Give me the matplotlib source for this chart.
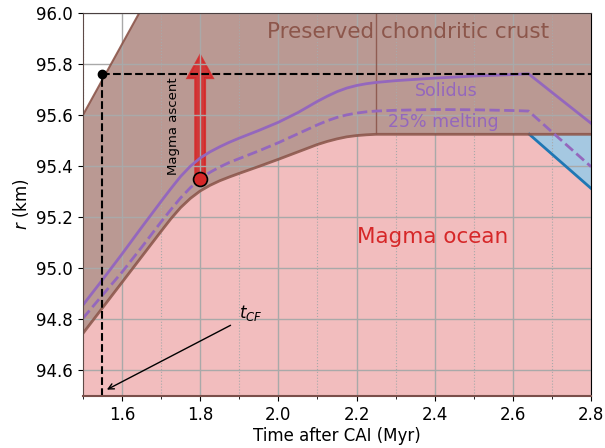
import numpy as np
import matplotlib
matplotlib.use("Agg")
import matplotlib.pyplot as plt
from matplotlib.ticker import MultipleLocator

# ---- data ----
t = [1.50, 1.55, 1.60, 1.65, 1.70, 1.725, 1.75, 1.775, 1.80, 1.825, 1.85, 1.875,
     1.90, 1.95, 2.00, 2.05, 2.10, 2.125, 2.15, 2.175, 2.20, 2.225, 2.25, 2.30,
     2.40, 2.50, 2.60, 2.64, 2.70, 2.80]
crust_base = [94.745, 94.845, 94.945, 95.045, 95.145, 95.194, 95.238, 95.274,
              95.303, 95.325, 95.343, 95.358, 95.372, 95.399, 95.427, 95.456,
              95.485, 95.497, 95.507, 95.515, 95.52, 95.523, 95.525, 95.525,
              95.525, 95.525, 95.525, 95.525, 95.525, 95.525]
solidus = [94.856, 94.955, 95.056, 95.16, 95.262, 95.312, 95.36, 95.40, 95.432,
           95.456, 95.476, 95.494, 95.51, 95.54, 95.572, 95.61, 95.654, 95.674,
           95.692, 95.706, 95.716, 95.723, 95.728, 95.735, 95.745, 95.753,
           95.759, 95.762, 95.689, 95.568]
melt25 = [94.804, 94.895, 94.985, 95.082, 95.182, 95.23, 95.276, 95.316, 95.35,
          95.376, 95.397, 95.415, 95.43, 95.46, 95.492, 95.527, 95.562, 95.578,
          95.591, 95.601, 95.608, 95.613, 95.616, 95.619, 95.622, 95.621,
          95.618, 95.616, 95.534, 95.398]
# frozen base (blue) region
blue_t = [2.642, 2.70, 2.75, 2.80]
blue_r = [95.525, 95.447, 95.38, 95.313]
# surface line of the crust (top-left)
surf_t = [1.50, 1.70]
surf_r = [95.60, 96.155]
t_cf = 1.55
r_cf = 95.76
ascent_t = 1.80
ascent_r0 = 95.35
ascent_r1 = 95.835
xticks = [1.6, 1.8, 2.0, 2.2, 2.4, 2.6, 2.8]
yticks = [94.6, 94.8, 95.0, 95.2, 95.4, 95.6, 95.8, 96.0]

BROWN = '#8c564b'
RED = '#d62728'
PURPLE = '#9467bd'
BLUE = '#1f77b4'

fig = plt.figure(figsize=(6.05, 4.48), dpi=100)
ax = fig.add_axes([0.137, 0.116, 0.840, 0.855])

t_arr = np.array(t)
base_arr = np.array(crust_base)
surf_full = np.where(t_arr <= surf_t[-1],
                     np.interp(t_arr, surf_t, surf_r), 97.0)

# brown crust region
ax.fill_between(t_arr, base_arr, surf_full, color=BROWN, alpha=0.6, lw=0)
# pink magma ocean
mask = t_arr < blue_t[0]
pink_t = np.concatenate([t_arr[mask], blue_t])
pink_r = np.concatenate([base_arr[mask], blue_r])
ax.fill_between(pink_t, 94.0, pink_r, color=RED, alpha=0.3, lw=0)
# blue region
ax.fill_between(blue_t, blue_r, np.interp(blue_t, t, crust_base),
                color=BLUE, alpha=0.4, lw=0)
ax.plot(blue_t, blue_r, color=BLUE, lw=2)

# crust base and surface lines
ax.plot(t_arr, base_arr, color=BROWN, lw=2, alpha=0.9)
ax.plot(surf_t, surf_r, color=BROWN, lw=1.5, alpha=0.9)
ax.vlines(2.25, 95.525, 96.0, color=BROWN, lw=1, alpha=0.9)

# solidus & 25% melting
ax.plot(t, solidus, color=PURPLE, lw=2)
ax.plot(t, melt25, color=PURPLE, lw=2, ls='--')

# tcf dashed lines
ax.plot([t_cf, 2.8], [r_cf, r_cf], 'k--', lw=1.5)
ax.plot([t_cf, t_cf], [94.5, r_cf], 'k--', lw=1.5)
ax.plot([t_cf], [r_cf], 'o', color='k', ms=6, zorder=5)

# magma ascent arrow
ax.arrow(ascent_t, ascent_r0, 0, ascent_r1 - ascent_r0 - 0.09, width=0.025,
         head_width=0.065, head_length=0.09, color=RED, alpha=0.85, lw=1.5,
         length_includes_head=False)
ax.plot([ascent_t], [ascent_r0], 'o', ms=10, mfc=RED, mec='k', mew=1.2, zorder=6)
ax.text(1.733, 95.555, 'Magma ascent', rotation=90, ha='center', va='center',
        fontsize=9.5)

# labels
ax.text(2.333, 95.926, 'Preserved chondritic crust', color=BROWN, fontsize=15.5,
        ha='center', va='center')
ax.text(2.395, 95.123, 'Magma ocean', color=RED, fontsize=15.5,
        ha='center', va='center')
ax.text(2.430, 95.694, 'Solidus', color=PURPLE, fontsize=12.5,
        ha='center', va='center')
ax.text(2.421, 95.573, '25% melting', color=PURPLE, fontsize=12.5,
        ha='center', va='center')

ax.annotate('', xy=(1.555, 94.52), xytext=(1.884, 94.782),
            arrowprops=dict(arrowstyle='->', color='k', lw=1))
ax.text(1.899, 94.825, r'$t_{CF}$', fontsize=12, ha='left', va='center')

ax.set_xlim(1.5, 2.8)
ax.set_ylim(94.5, 96.0)
ax.set_xticks(xticks)
ax.set_yticks(yticks)
ax.xaxis.set_minor_locator(MultipleLocator(0.1))
ax.grid(which='major', color='#a9a9a9', lw=1)
ax.grid(which='minor', axis='x', color='#a9a9a9', lw=0.8, ls=':')
ax.tick_params(labelsize=12)
ax.set_xlabel('Time after CAI (Myr)', fontsize=12, labelpad=2)
ax.set_ylabel(r'$r$ (km)', fontsize=12)

ax.spines['bottom'].set_color('#7a4f4a')
ax.spines['bottom'].set_linewidth(1.5)
ax.spines['left'].set_color('#5e4a47')
ax.spines['top'].set_color('#4a4040')

fig.savefig('out.png', dpi=100)
